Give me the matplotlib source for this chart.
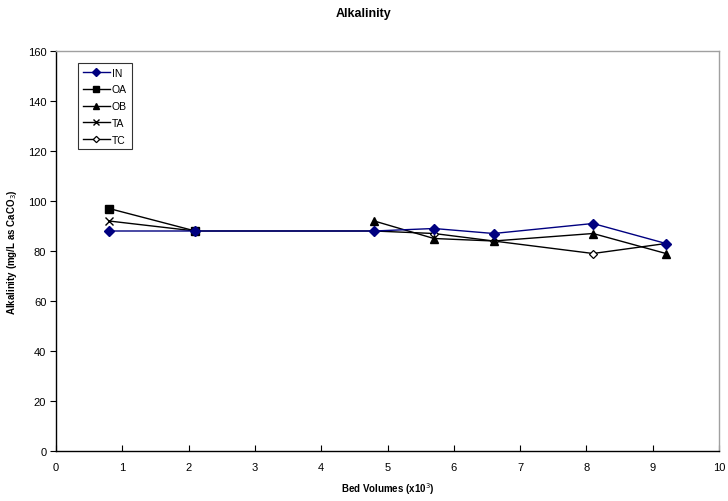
import matplotlib.pyplot as plt

# Bed volumes (x10^3) and alkalinity (mg/L as CaCO3)
IN_X = [0.8, 2.1, 4.8, 5.7, 6.6, 8.1, 9.2]
IN_Y = [88, 88, 88, 89, 87, 91, 83]

OA_X = [0.8, 2.1]
OA_Y = [97, 88]

OB_X = [4.8, 5.7, 6.6, 8.1, 9.2]
OB_Y = [92, 85, 84, 87, 79]

TA_X = [0.8, 2.1]
TA_Y = [92, 88]

TC_X = [2.1, 4.8, 5.7, 6.6, 8.1, 9.2]
TC_Y = [88, 88, 87, 84, 79, 83]

X_TICKS = list(range(0, 11))
Y_TICKS = list(range(0, 161, 20))

plt.rcParams["font.family"] = ["Liberation Sans", "DejaVu Sans"]

fig = plt.figure(figsize=(7.28, 5.02), dpi=100)
ax = fig.add_axes([56 / 728, 1 - 452 / 502, (719 - 56) / 728, (452 - 52) / 502])

ax.plot(TC_X, TC_Y, color="black", lw=1.0, marker="D", ms=4, mfc="white", mec="black", mew=0.9, label="TC", zorder=3)
ax.plot(TA_X, TA_Y, color="black", lw=1.0, marker="x", ms=6, mew=1.0, label="TA", zorder=3)
ax.plot(OB_X, OB_Y, color="black", lw=1.0, marker="^", ms=6, label="OB", zorder=3)
ax.plot(OA_X, OA_Y, color="black", lw=1.0, marker="s", ms=6, label="OA", zorder=3)
ax.plot(IN_X, IN_Y, color="#000080", lw=1.0, marker="D", ms=5, mfc="#000080", mec="#000080", label="IN", zorder=4)

ax.set_xlim(0, 10)
ax.set_ylim(0, 160)
ax.set_xticks(X_TICKS)
ax.set_yticks(Y_TICKS)
ax.tick_params(axis="x", direction="in", length=4, labelsize=8, pad=8, width=0.8)
ax.tick_params(axis="y", direction="out", length=4, labelsize=8, pad=3, width=0.8)

for side in ["left", "bottom"]:
    ax.spines[side].set_color("black")
    ax.spines[side].set_linewidth(1.0)
for side in ["top", "right"]:
    ax.spines[side].set_color("#a0a0a0")
    ax.spines[side].set_linewidth(1.0)

ax.set_xlabel("Bed Volumes (x10$^3$)", fontsize=7, fontweight="bold", labelpad=6)
ax.set_ylabel("Alkalinity (mg/L as CaCO$_3$)", fontsize=7, fontweight="bold", labelpad=6)
fig.suptitle("Alkalinity", fontsize=9, fontweight="bold", y=0.985)

handles, labels = ax.get_legend_handles_labels()
order = ["IN", "OA", "OB", "TA", "TC"]
hmap = dict(zip(labels, handles))
leg = ax.legend(
    [hmap[k] for k in order], order,
    loc="upper left", bbox_to_anchor=(22 / 663, 1 - 12 / 400), borderaxespad=0,
    fontsize=7.5, frameon=True, fancybox=False, edgecolor="black",
    handlelength=2.6, handletextpad=0.2, borderpad=0.45, labelspacing=0.65,
    markerscale=0.8,
)
leg.get_frame().set_linewidth(0.8)

fig.savefig("out.png", dpi=100)
